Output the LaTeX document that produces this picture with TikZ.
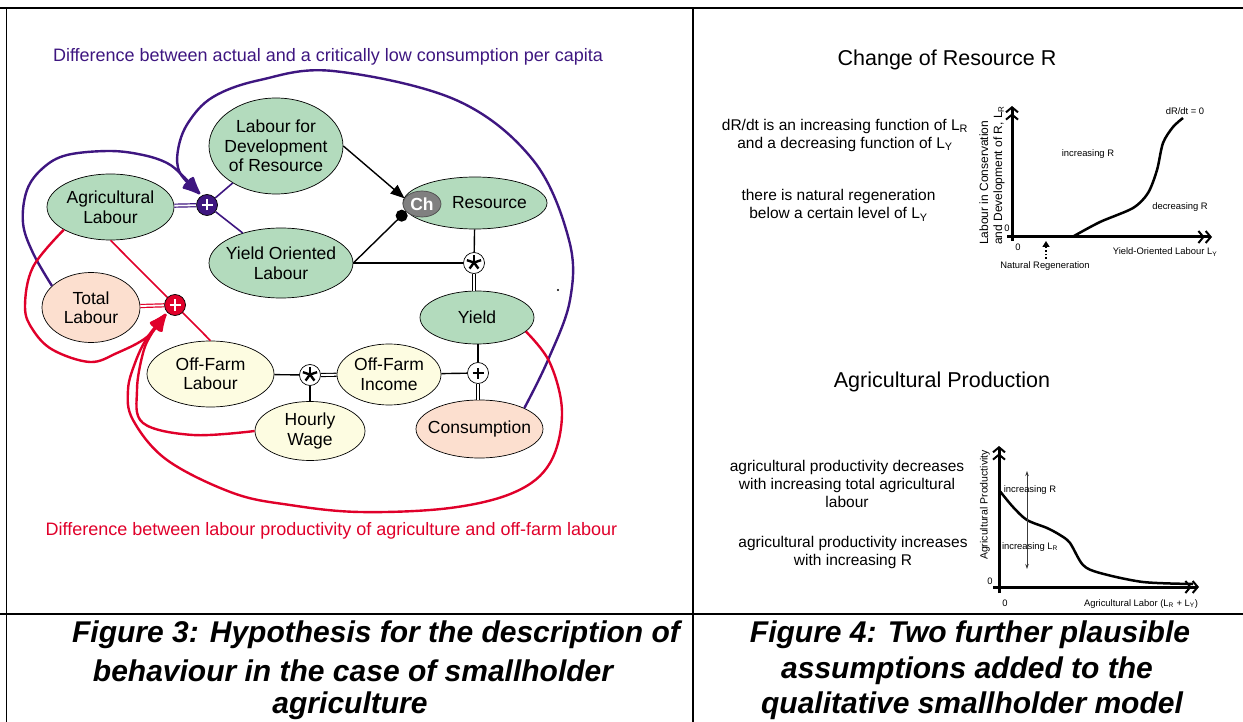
\documentclass[tikz,border=0pt]{standalone}
\usepackage{fontspec}
\setmainfont{Liberation Sans}
\usetikzlibrary{shapes.geometric,arrows.meta}

\definecolor{loopviolet}{RGB}{62,22,128}
\definecolor{loopred}{RGB}{224,0,42}
\definecolor{agrgreen}{RGB}{179,219,189}
\definecolor{peach}{RGB}{252,223,207}
\definecolor{cream}{RGB}{253,252,225}
\definecolor{chgrey}{RGB}{128,128,128}
\definecolor{thinarrow}{RGB}{60,60,60}

\newcommand{\fsz}[2]{\fontsize{#1}{#2}\selectfont}

\begin{document}
\begin{tikzpicture}[x=1pt,y=-1pt,
  frame/.style={line width=1.3pt},
  var/.style={ellipse, draw=black, line width=0.7pt, inner sep=0pt},
  vtext/.style={align=center, inner sep=0pt, font=\fsz{17.5}{19.5}},
  junction/.style={circle, draw=black, line width=0.7pt, minimum size=21pt, inner sep=0pt},
  plusmark/.style 2 args={junction, fill=#1, path picture={
      \draw[#2, line width=2.2pt] ([xshift=-5.5pt]path picture bounding box.center) -- ([xshift=5.5pt]path picture bounding box.center);
      \draw[#2, line width=2.2pt] ([yshift=-5.5pt]path picture bounding box.center) -- ([yshift=5.5pt]path picture bounding box.center);}},
  starmark/.style={junction, fill=white, path picture={
      \foreach \a in {90,18,162,234,306}
        \draw[line width=2.4pt] ([yshift=0.5pt]path picture bounding box.center) -- ++(\a:7.5pt);}},
  conn/.style={line width=1.4pt},
  vconn/.style={loopviolet, line width=1.6pt},
  rconn/.style={loopred, line width=1.6pt},
  dbl/.style={double=white, double distance=1.8pt, line width=1.2pt},
  vloop/.style={loopviolet, line width=2.4pt, -{Latex[round,length=22pt,width=15pt]}},
  rloop/.style={loopred, line width=2.4pt, -{Latex[round,length=22pt,width=15pt]}},
  axis/.style={line width=3pt, -{Straight Barb[length=5pt,width=12pt,line width=2pt]Straight Barb[length=5pt,width=12pt,line width=2pt]}},
  small/.style={inner sep=0pt, font=\fsz{9.4}{11}},
  note/.style={align=center, inner sep=0pt, font=\fsz{15.5}{18}},
  looplabel/.style={inner sep=0pt, font=\fsz{18}{20}},
  caption/.style={inner sep=0pt, font=\fsz{30}{36}\bfseries\itshape},
  title/.style={inner sep=0pt, font=\fsz{21.5}{24}}
]
\useasboundingbox (0,0) rectangle (1243,722);

% table rules
\draw[frame] (0,8) -- (1243,8);
\draw[frame] (0,614) -- (1243,614);
\draw[frame] (6.5,8) -- (6.5,722);
\draw[frame] (693,8) -- (693,722);

% ---------- causal loop diagram ----------
\node[var, fill=agrgreen, minimum width=134pt, minimum height=96pt] (lfd) at (276,146) {};
\node[vtext] (lfd-t) at (lfd) {Labour for\\Development\\of Resource};
\node[var, fill=agrgreen, minimum width=127pt, minimum height=66pt] (agl) at (110.5,207) {};
\node[vtext] (agl-t) at (agl) {Agricultural\\Labour};
\node[var, fill=agrgreen, minimum width=144pt, minimum height=70pt] (yol) at (281,263) {};
\node[vtext] (yol-t) at (yol) {Yield Oriented\\Labour};
\node[var, fill=peach, minimum width=98pt, minimum height=70pt] (tl) at (91,307.5) {};
\node[vtext] (tl-t) at (tl) {Total\\Labour};
\node[var, fill=agrgreen, minimum width=144pt, minimum height=52pt] (res) at (475,203) {};
\node[vtext] (res-t) at (489.5,203) {Resource};
\node[var, fill=chgrey, draw=black!70, minimum width=38pt, minimum height=26pt] (ch) at (422,204) {};
\node[inner sep=0pt, text=white, font=\fsz{17.5}{19}\bfseries] (ch-t) at (ch) {Ch};
\node[var, fill=agrgreen, minimum width=114pt, minimum height=53pt] (yield) at (477,317.5) {};
\node[vtext] (yield-t) at (yield) {Yield};
\node[var, fill=cream, minimum width=127pt, minimum height=66pt] (ofl) at (210.5,374) {};
\node[vtext] (ofl-t) at (ofl) {Off-Farm\\Labour};
\node[var, fill=cream, minimum width=104pt, minimum height=61pt] (ofi) at (389,374.5) {};
\node[vtext] (ofi-t) at (ofi) {Off-Farm\\Income};
\node[var, fill=cream, minimum width=110pt, minimum height=59pt] (hw) at (310,431) {};
\node[vtext] (hw-t) at (hw) {Hourly\\Wage};
\node[var, fill=peach, minimum width=127pt, minimum height=58pt] (cons) at (479.5,429) {};
\node[vtext] (cons-t) at (cons) {Consumption};

% junctions
\node[plusmark={loopviolet}{white}] (pp) at (207,205) {};
\node[plusmark={loopred}{white}] (pr) at (175,305) {};
\node[plusmark={white}{black}] (p3) at (478,373) {};
\node[starmark] (s1) at (474,263) {};
\node[starmark] (s2) at (310,375) {};

% black flows
\draw[conn, -{Triangle[length=14pt,width=11pt]}] (lfd.east) -- (ch.162);
\draw[conn, -{Circle[length=12pt]}] (yol.east) -- (ch.205);
\draw[conn] (yol.east) -- (s1);
\draw[conn] (res) -- (s1);
\draw[dbl] (s1) -- (s1 |- yield.north);
\draw[conn] (p3 |- yield.south) -- (p3);
\draw[conn] (ofi) -- (p3);
\draw[dbl] (p3) -- (p3 |- cons.north);
\draw[conn] (ofl) -- (s2);
\draw[conn] (hw) -- (s2);
\draw[dbl] (s2) -- (ofi);

% labour allocation links
\draw[vconn] (lfd) -- (pp);
\draw[vconn] (yol) -- (pp);
\draw[dbl, loopviolet] (pp) -- (agl);
\draw[rconn] (agl.south) -- (pr);
\draw[rconn] (ofl.north) -- (pr);
\draw[dbl, loopred] (pr) -- (tl);

% feedback loops
\coordinate (ptip) at (200,194);
\coordinate (rtip) at (166,314);
\draw[vloop] plot[smooth, tension=0.6] coordinates {(cons.25) (548,360) (570,300) (569,240) (533,160) (456,100) (333,71) (260,80) (213,97) (188,123) (178,150) (180,173) (ptip)};
\draw[vloop] plot[smooth, tension=0.6] coordinates {(tl.151) (33,253) (23,223) (27,190) (43,168) (67,155) (110,151) (143,155) (167,163) (182,175) (ptip)};
\draw[rloop] plot[smooth, tension=0.6] coordinates {(agl.206) (33,267) (25,307) (33,330) (53,350) (90,362) (117,353) (147,337) (rtip)};
\draw[rloop] plot[smooth, tension=0.6] coordinates {(hw.west) (193,435) (143,423) (137,390) (143,353) (152,333) (rtip)};
\draw[rloop] plot[smooth, tension=0.6] coordinates {(yield.344) (550,363) (562,413) (550,463) (515,492) (450,508) (360,512) (290,505) (233,493) (167,460) (133,420) (128,390) (135,363) (147,338) (rtip)};

\fill (558,290) circle (1.1pt);

\node[looplabel, text=loopviolet] (vlabel) at (328,57) {Difference between actual and a critically low consumption per capita};
\node[looplabel, text=loopred] (rlabel) at (331.5,531) {Difference between labour productivity of agriculture and off-farm labour};

% ---------- change of resource ----------
\node[title] (t1) at (947,60) {Change of Resource R};
\node[note] (n1) at (845,135) {dR/dt is an increasing function of L\textsubscript{R}\\and a decreasing function of L\textsubscript{Y}};
\node[note] (n2) at (838.5,205.5) {there is natural regeneration\\below a certain level of L\textsubscript{Y}};

\draw[axis] (1012,241) -- (1012,106);
\draw[axis] (1007,237) -- (1212,237);
\draw[line width=2.5pt] plot[smooth] coordinates {(1074,236) (1100,222) (1133,208) (1148,193) (1157,170) (1163,143) (1173,127) (1183,118)};
\node[small] (z1a) at (1007,228) {0};
\node[small] (z1b) at (1018,247) {0};
\node[small] (g1a) at (1185,111) {dR/dt = 0};
\node[small] (g1b) at (1088,154) {increasing R};
\node[small] (g1c) at (1180,207) {decreasing R};
\node[small] (g1d) at (1165,252) {Yield-Oriented Labour L\textsubscript{Y}};
\node[small] (g1e) at (1045,266) {Natural Regeneration};
\coordinate (nr0) at (1046,259);
\coordinate (nr1) at (1046,241);
\draw[line width=1.6pt, dotted, -{Triangle[length=6pt,width=7pt]}] (nr0) -- (nr1);
\node[rotate=90, anchor=west, align=left, inner sep=0pt, font=\fsz{12}{14}] (ylab1) at (992,245) {Labour in Conservation\\and Development of R, L\textsubscript{R}};

% ---------- agricultural production ----------
\node[title] (t2) at (942,382) {Agricultural Production};
\node[note] (n3) at (847,484) {agricultural productivity decreases\\with increasing total agricultural\\labour};
\node[note] (n4) at (853,552) {agricultural productivity increases\\with increasing R};

\draw[axis] (999,593) -- (999,446);
\draw[axis] (993,587) -- (1199,587);
\draw[line width=2.5pt] plot[smooth] coordinates {(999,490) (1013,507) (1027,520) (1047,528) (1060,535) (1070,543) (1083,565) (1100,573) (1143,582) (1193,584)};
\coordinate (mid2) at (1027,521);
\coordinate (up2) at (1027,471);
\coordinate (dn2) at (1027,569);
\draw[thinarrow, line width=0.8pt, -{Stealth[length=5pt,width=3.5pt]}] (mid2) -- (up2);
\draw[thinarrow, line width=0.8pt, -{Stealth[length=5pt,width=3.5pt]}] (mid2) -- (dn2);
\node[small] (g2a) at (1030,490) {increasing R};
\node[small] (g2b) at (1030,547) {increasing L\textsubscript{R}};
\node[small] (g2c) at (1141,604) {Agricultural Labor (L\textsubscript{R} + L\textsubscript{Y})};
\node[small] (z2a) at (990,581) {0};
\node[small] (z2b) at (1005,603) {0};
\node[rotate=90, inner sep=0pt, font=\fsz{10.5}{12}] (ylab2) at (985,505) {Agricultural Productivity};

% ---------- captions ----------
\node[caption] (c3a) at (376,635) {Figure 3: Hypothesis for the description of};
\node[caption] (c3b) at (353,671) {behaviour in the case of smallholder};
\node[caption] (c3c) at (350,706) {agriculture};
\node[caption] (c4a) at (970,635) {Figure 4: Two further plausible};
\node[caption] (c4b) at (967,671) {assumptions added to the};
\node[caption] (c4c) at (972,706) {qualitative smallholder model};
\end{tikzpicture}
\end{document}
